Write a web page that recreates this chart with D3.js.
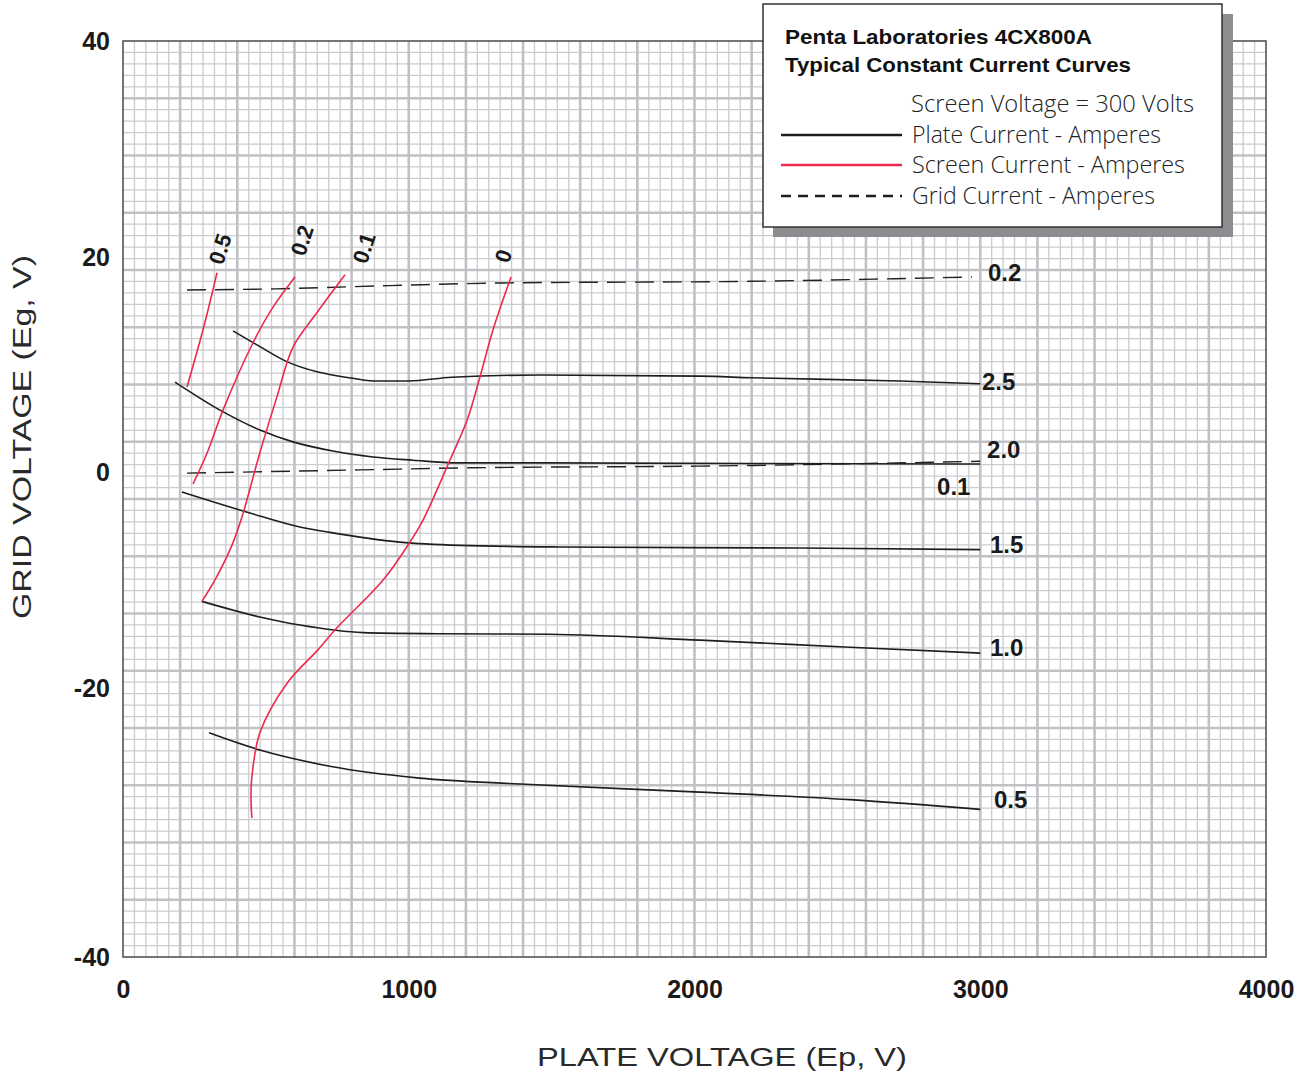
<!DOCTYPE html>
<html>
<head>
<meta charset="utf-8">
<script src="https://cdn.jsdelivr.net/npm/d3@7"></script>
<style>
  html, body { margin: 0; padding: 0; background: #fff; }
  svg { display: block; }
</style>
</head>
<body>
<svg id="chart" width="1305" height="1076"></svg>
<script>
// ---------------- DATA ----------------
const xTickValues = [0, 1000, 2000, 3000, 4000];
const xTickLabels = ["0", "1000", "2000", "3000", "4000"];
// The paper's bottom edge (-45 V) carries the "-40" label in the original
const yTickValues = [40, 20, 0, -20, -45];
const yTickLabels = ["40", "20", "0", "-20", "-40"];

// Plate current curves (Amperes) : [Ep, Eg]
const plate25 = [[385,13.1],[469,11.8],[577,10.2],[679,9.3],[805,8.7],[875,8.45],[1000,8.45],[1150,8.8],[1459,9.0],[2019,8.9],[2200,8.75],[2719,8.45],[3000,8.2]];
const plate20 = [[182,8.35],[346,5.65],[479,3.9],[595,2.8],[735,1.95],[875,1.4],[1015,1.1],[1169,0.85],[1459,0.85],[2200,0.8],[3000,0.75]];
const plate15 = [[206,-1.85],[444,-3.8],[619,-5.1],[724,-5.6],[969,-6.5],[1179,-6.8],[1529,-6.95],[2369,-7.05],[3000,-7.2]];
const plate10 = [[276,-12.0],[479,-13.45],[619,-14.2],[840,-14.9],[1100,-15.0],[1494,-15.05],[2019,-15.6],[2544,-16.25],[3000,-16.8]];
const plate05 = [[301,-24.2],[479,-25.8],[724,-27.3],[1039,-28.4],[1389,-28.95],[2019,-29.7],[2544,-30.4],[3000,-31.3]];

// Screen current curves (Amperes)
const screen05 = [[329,18.5],[280,13.2],[224,7.9]];
const screen02 = [[602,18.1],[525,15.3],[455,12.0],[350,5.75],[294,1.75],[245,-1.1]];
const screen01 = [[777,18.3],[679,14.8],[595,11.6],[539,7.0],[479,1.8],[416,-4.2],[381,-6.8],[322,-10.0],[276,-12.0]];
const screen00 = [[1358,18.1],[1295,13.2],[1249,8.8],[1204,4.8],[1144,1.1],[1050,-4.45],[1004,-6.5],[911,-10.0],[747,-14.5],[682,-16.5],[574,-19.6],[479,-24.2],[451,-28.3],[448,-30.4],[451,-32.1]];

// Grid current curves (Amperes)
const grid02 = [[224,16.9],[532,17.0],[934,17.3],[1330,17.55],[2194,17.7],[2971,18.1]];
const grid01 = [[224,-0.1],[829,0.2],[1225,0.4],[2019,0.55],[3000,1.0]];

const plateSeries = [plate25, plate20, plate15, plate10, plate05];
const screenSeries = [screen05, screen02, screen01, screen00];
const gridSeries = [grid02, grid01];

// Curve labels: [text, Ep, Eg]
const plateLabels = [["2.5",3006,8.45],["2.0",3024,2.1],["1.5",3034,-6.7],["1.0",3034,-16.3],["0.5",3048,-30.4]];
const gridLabels = [["0.2",3027,18.55],["0.1",2849,-1.3]];
const screenLabels = [["0.5",339,20.7],["0.2",626,21.5],["0.1",843,20.8],["0",1330,20.05]];

const titleLines = ["Penta Laboratories 4CX800A", "Typical Constant Current Curves"];
const legendHeader = "Screen Voltage = 300 Volts";
const legendItems = ["Plate Current - Amperes", "Screen Current - Amperes", "Grid Current - Amperes"];
const xTitle = "PLATE VOLTAGE (Ep, V)";
const yTitle = "GRID VOLTAGE (Eg, V)";

// ---------------- DRAW ----------------
const svg = d3.select("#chart");
const L = 123, R = 1266, T = 41, B = 957;
const x = d3.scaleLinear().domain([0, 4000]).range([L, R]);
const y = d3.scaleLinear().domain([-45, 40]).range([B, T]);
const RED = "#ec2a4e";

// graph-paper grid: 100 x 80 minor cells, major every 5
const gx = d3.scaleLinear().domain([0, 100]).range([L, R]);
const gy = d3.scaleLinear().domain([0, 80]).range([T, B]);
const grid = svg.append("g");
grid.selectAll("line.vmin").data(d3.range(1, 100).filter(i => i % 5)).join("line")
  .attr("x1", d => gx(d)).attr("x2", d => gx(d)).attr("y1", T).attr("y2", B)
  .attr("stroke", "#cbccd0").attr("stroke-width", 1.3);
grid.selectAll("line.hmin").data(d3.range(1, 80).filter(i => i % 5)).join("line")
  .attr("y1", d => gy(d)).attr("y2", d => gy(d)).attr("x1", L).attr("x2", R)
  .attr("stroke", "#cbccd0").attr("stroke-width", 1.3);
grid.selectAll("line.vmaj").data(d3.range(5, 100, 5)).join("line")
  .attr("x1", d => gx(d)).attr("x2", d => gx(d)).attr("y1", T).attr("y2", B)
  .attr("stroke", "#c0c1c5").attr("stroke-width", 2.6);
grid.selectAll("line.hmaj").data(d3.range(5, 80, 5)).join("line")
  .attr("y1", d => gy(d)).attr("y2", d => gy(d)).attr("x1", L).attr("x2", R)
  .attr("stroke", "#c0c1c5").attr("stroke-width", 2.6);
svg.append("rect").attr("x", L).attr("y", T).attr("width", R - L).attr("height", B - T)
  .attr("fill", "none").attr("stroke", "#4a4a4a").attr("stroke-width", 1.5);

// axes (labels only)
const xAxis = d3.axisBottom(x).tickValues(xTickValues)
  .tickFormat((d, i) => xTickLabels[i]).tickSize(0).tickPadding(0);
const gX = svg.append("g").attr("transform", `translate(0,${B})`).call(xAxis);
gX.select(".domain").remove();
gX.selectAll("text").attr("dy", 0).attr("y", 41)
  .style("font-family", "'Liberation Sans', Arial, sans-serif").style("font-weight", "bold")
  .style("font-size", "25px").attr("fill", "#1a1a1a");

const yAxis = d3.axisLeft(y).tickValues(yTickValues)
  .tickFormat((d, i) => yTickLabels[i]).tickSize(0).tickPadding(0);
const gY = svg.append("g").attr("transform", `translate(110,0)`).call(yAxis);
gY.select(".domain").remove();
gY.selectAll("text").attr("dy", "0.35em").attr("x", 0)
  .style("font-family", "'Liberation Sans', Arial, sans-serif").style("font-weight", "bold")
  .style("font-size", "25px").attr("fill", "#1a1a1a");

// axis titles
svg.append("text").attr("x", 722).attr("y", 1066).attr("text-anchor", "middle")
  .attr("textLength", 370).attr("lengthAdjust", "spacingAndGlyphs")
  .style("font-family", "'Liberation Sans', Arial, sans-serif").style("font-size", "25px")
  .attr("fill", "#2a2a2a").text(xTitle);
svg.append("text").attr("transform", "translate(31,437) rotate(-90)").attr("text-anchor", "middle")
  .attr("textLength", 364).attr("lengthAdjust", "spacingAndGlyphs")
  .style("font-family", "'Liberation Sans', Arial, sans-serif").style("font-size", "25px")
  .attr("fill", "#2a2a2a").text(yTitle);

// curves
const lineX = d3.line().x(d => x(d[0])).y(d => y(d[1])).curve(d3.curveMonotoneX);
const lineC = d3.line().x(d => x(d[0])).y(d => y(d[1])).curve(d3.curveCatmullRom.alpha(0.5));

svg.append("g").selectAll("path").data(gridSeries).join("path")
  .attr("d", lineX).attr("fill", "none").attr("stroke", "#222")
  .attr("stroke-width", 1.4).attr("stroke-dasharray", "19,9");
svg.append("g").selectAll("path").data(plateSeries).join("path")
  .attr("d", lineX).attr("fill", "none").attr("stroke", "#1e1e1e").attr("stroke-width", 1.6);
svg.append("g").selectAll("path").data(screenSeries).join("path")
  .attr("d", lineC).attr("fill", "none").attr("stroke", RED).attr("stroke-width", 1.6);

// curve labels
const lblFont = "'Liberation Sans', Arial, sans-serif";
svg.append("g").selectAll("text").data(plateLabels.concat(gridLabels)).join("text")
  .attr("x", d => x(d[1])).attr("y", d => y(d[2])).attr("dy", "0.36em")
  .style("font-family", lblFont).style("font-weight", "bold").style("font-size", "24px")
  .attr("fill", "#1a1a1a").text(d => d[0]);
svg.append("g").selectAll("text").data(screenLabels).join("text")
  .attr("transform", d => `translate(${x(d[1])},${y(d[2])}) rotate(-72)`)
  .attr("text-anchor", "middle").attr("dy", "0.36em")
  .style("font-family", lblFont).style("font-weight", "bold").style("font-size", "22px")
  .attr("fill", "#1a1a1a").text(d => d[0]);

// legend box
const lg = svg.append("g");
lg.append("rect").attr("x", 773).attr("y", 14).attr("width", 460).attr("height", 223).attr("fill", "#8d8d91");
lg.append("rect").attr("x", 763).attr("y", 4).attr("width", 459).attr("height", 223)
  .attr("fill", "#fff").attr("stroke", "#333").attr("stroke-width", 1.5);
lg.selectAll("text.title").data(titleLines).join("text")
  .attr("x", 785).attr("y", (d, i) => 44 + i * 28)
  .style("font-family", lblFont).style("font-weight", "bold").style("font-size", "21px")
  .attr("textLength", (d, i) => i === 0 ? 307 : 346).attr("lengthAdjust", "spacingAndGlyphs")
  .attr("fill", "#111").text(d => d);
lg.append("text").attr("x", 911).attr("y", 112)
  .attr("textLength", 283).attr("lengthAdjust", "spacingAndGlyphs")
  .style("font-family", "'Open Sans', 'Liberation Sans', sans-serif").style("font-weight", "300")
  .style("font-size", "23px").attr("fill", "#222").text(legendHeader);
const itemLen = [249, 273, 243];
const itemY = [135, 165, 196];
lg.selectAll("text.item").data(legendItems).join("text")
  .attr("x", 912).attr("y", (d, i) => itemY[i] + 8)
  .attr("textLength", (d, i) => itemLen[i]).attr("lengthAdjust", "spacingAndGlyphs")
  .style("font-family", "'Open Sans', 'Liberation Sans', sans-serif").style("font-weight", "300")
  .style("font-size", "23px").attr("fill", "#222").text(d => d);
const swStyles = [{c: "#1e1e1e", w: 2.6, dash: null}, {c: RED, w: 2.6, dash: null}, {c: "#1e1e1e", w: 2.6, dash: "10,7"}];
lg.selectAll("line.sw").data(swStyles).join("line")
  .attr("x1", 781).attr("x2", 902).attr("y1", (d, i) => itemY[i]).attr("y2", (d, i) => itemY[i])
  .attr("stroke", d => d.c).attr("stroke-width", d => d.w)
  .attr("stroke-dasharray", d => d.dash);
</script>
</body>
</html>
